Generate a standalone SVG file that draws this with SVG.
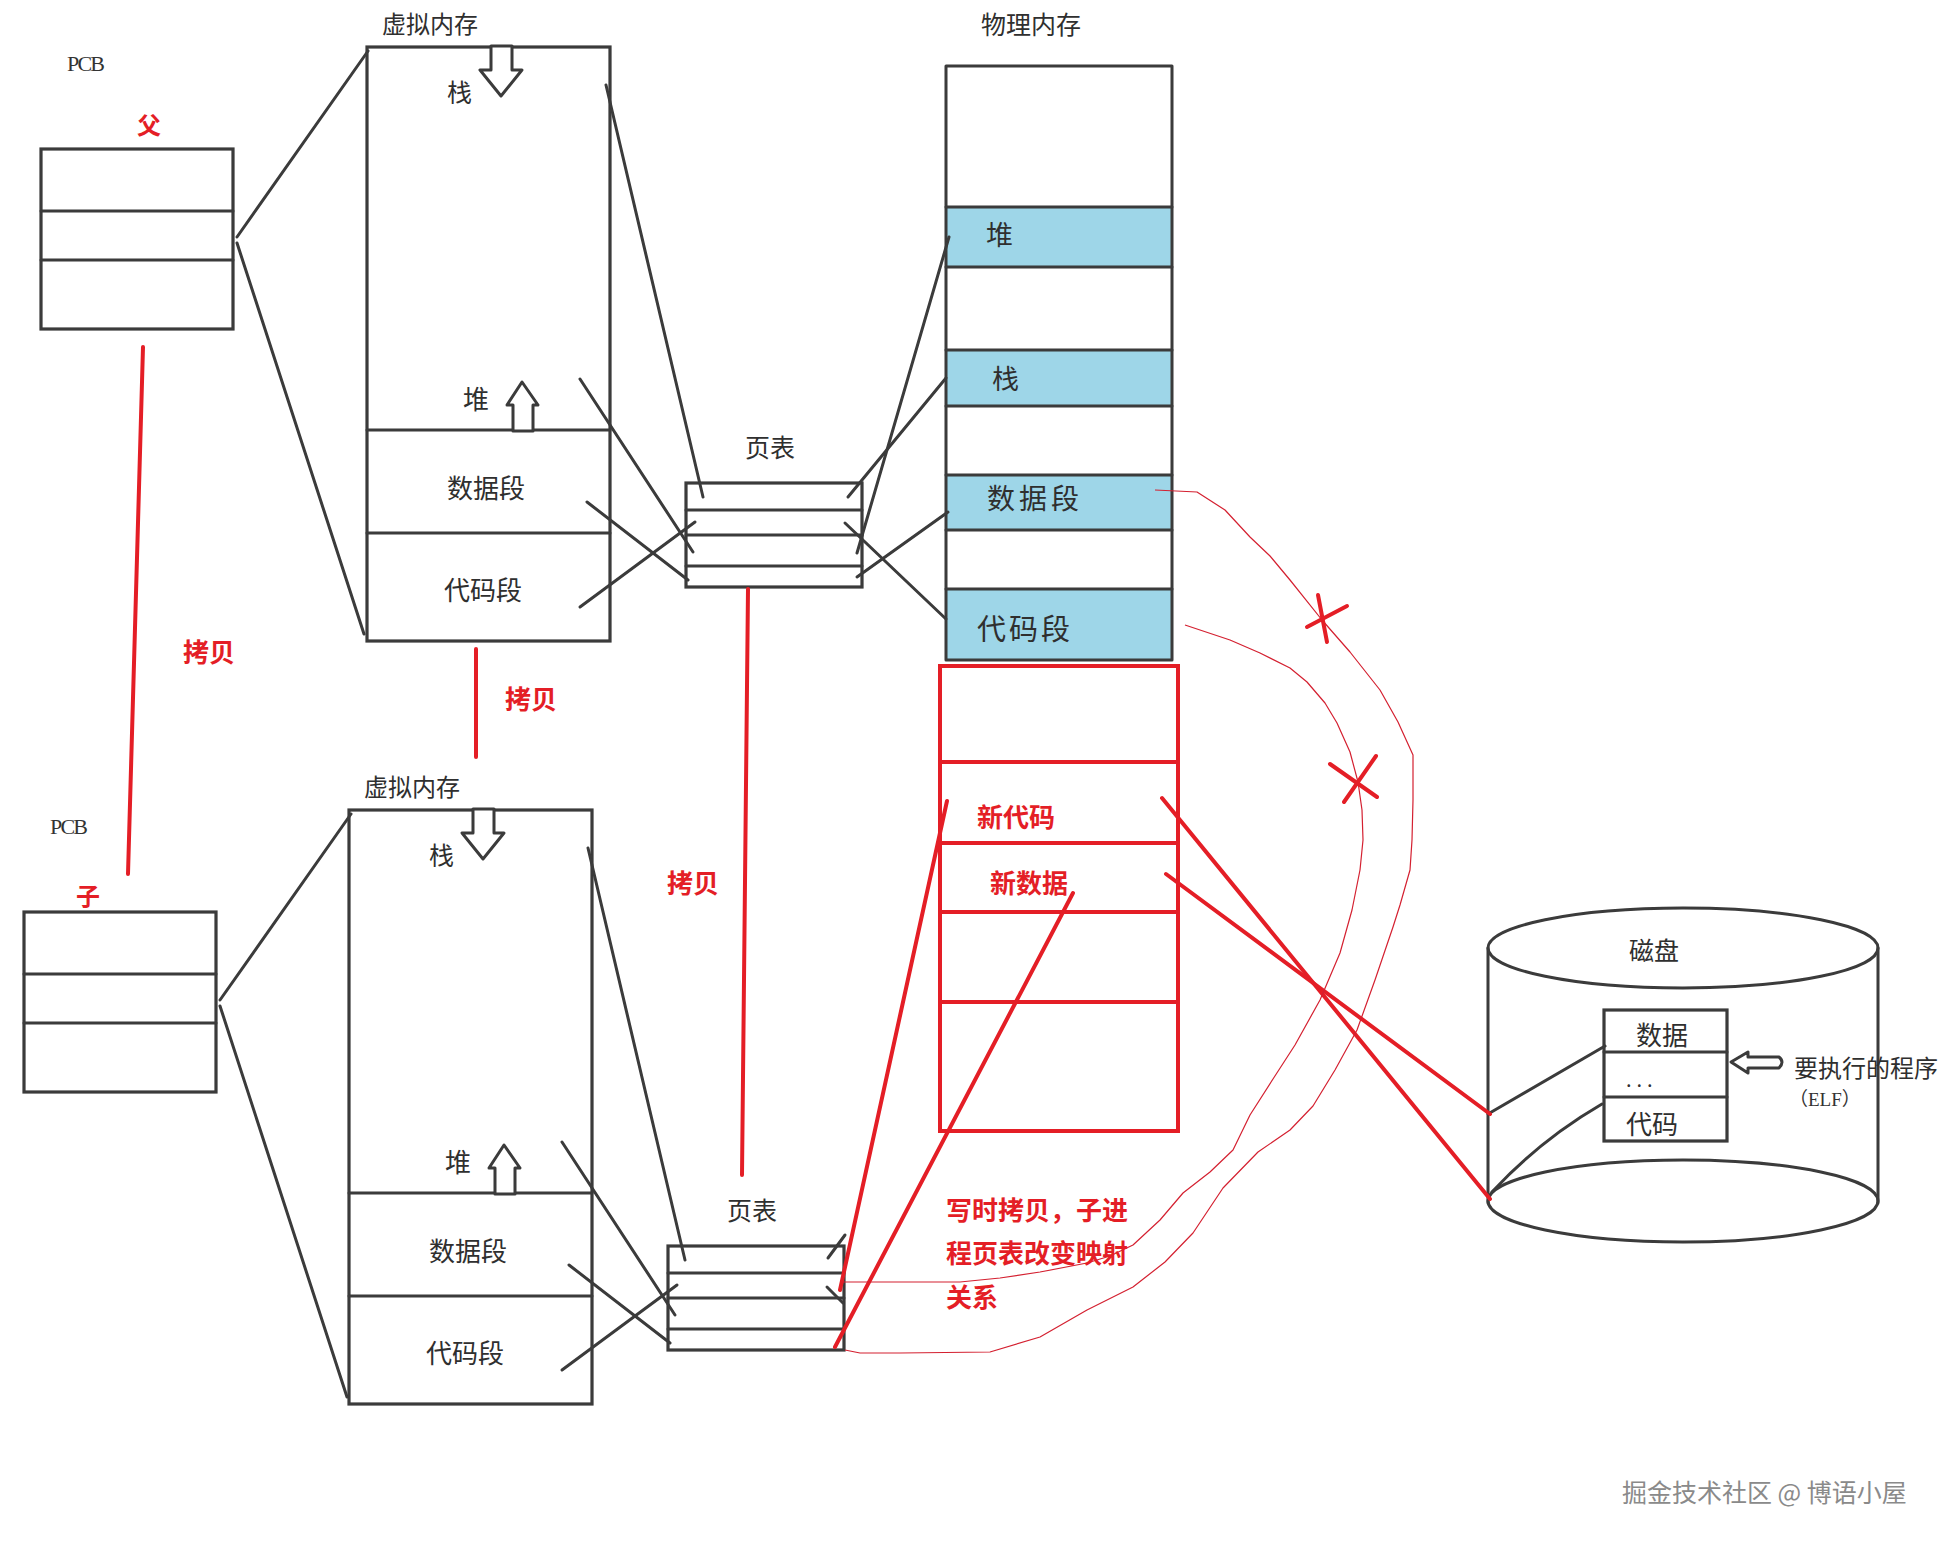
<svg xmlns="http://www.w3.org/2000/svg" width="1945" height="1544" viewBox="0 0 1945 1544">
<defs>
<style>
.pen{fill:none;stroke:#3a3a3a;stroke-width:3;stroke-linecap:round;stroke-linejoin:round;filter:url(#soft)}
.box{fill:#fff;stroke:#3a3a3a;stroke-width:3.2;filter:url(#soft)}
.arr{fill:#fff;stroke:#3a3a3a;stroke-width:3;stroke-linejoin:round;filter:url(#soft)}
.blue{fill:#9ED6E8}
.red{fill:none;stroke:#E41E26;stroke-width:4;stroke-linecap:round}
.redbox{fill:none;stroke:#E41E26;stroke-width:4}
.thin{fill:none;stroke:#D42030;stroke-width:1.2;stroke-linejoin:round}
.lbl{font-family:"Noto Sans CJK SC","Noto Sans",sans-serif;fill:#2f2f2f}
.rt{font-family:"Noto Sans CJK SC","Noto Sans",sans-serif;fill:#E41E26;font-weight:700}
.serif{font-family:"Liberation Serif","Noto Sans CJK SC",serif;fill:#333}
.wm{font-family:"Noto Sans CJK SC","Noto Sans",sans-serif;fill:#8a8a8a}
</style>
<filter id="soft" filterUnits="userSpaceOnUse" x="-2000" y="-2000" width="6000" height="6000"><feGaussianBlur stdDeviation="0.6"/></filter>
</defs>
<rect width="1945" height="1544" fill="#fff"/>

<!-- ===== Parent process ===== -->
<g id="parent-pcb">
  <text class="serif" x="67" y="71" font-size="22" textLength="38">PCB</text>
  <rect class="box" x="41" y="149" width="192" height="180"/>
  <line class="pen" x1="41" y1="211" x2="233" y2="211"/>
  <line class="pen" x1="41" y1="260" x2="233" y2="260"/>
</g>
<g id="parent-vm">
  <text class="lbl" x="382" y="33" font-size="24">虚拟内存</text>
  <rect class="box" x="367" y="47" width="243" height="594"/>
  <line class="pen" x1="367" y1="430" x2="610" y2="430"/>
  <line class="pen" x1="367" y1="533" x2="610" y2="533"/>
  <path class="arr" d="M491,46 L512,46 L512,70 L522,70 L501,96 L480,70 L491,70 Z"/>
  <path class="arr" d="M513,431 L513,405 L507,405 L522,382 L538,405 L533,405 L533,431 Z"/>
  <text class="lbl" x="447" y="102" font-size="25">栈</text>
  <text class="lbl" x="463" y="409" font-size="26">堆</text>
  <text class="lbl" x="447" y="498" font-size="26">数据段</text>
  <text class="lbl" x="444" y="600" font-size="26">代码段</text>
</g>
<g id="parent-pt">
  <text class="lbl" x="745" y="457" font-size="25">页表</text>
  <rect class="box" x="686" y="483" width="176" height="104"/>
  <line class="pen" x1="686" y1="510" x2="862" y2="510"/>
  <line class="pen" x1="686" y1="535" x2="862" y2="535"/>
  <line class="pen" x1="686" y1="566" x2="862" y2="566"/>
</g>

<!-- ===== Child process (copy) ===== -->
<g id="child-pcb" transform="translate(-17,763)">
  <text class="serif" x="67" y="71" font-size="22" textLength="38">PCB</text>
  <rect class="box" x="41" y="149" width="192" height="180"/>
  <line class="pen" x1="41" y1="211" x2="233" y2="211"/>
  <line class="pen" x1="41" y1="260" x2="233" y2="260"/>
</g>
<g id="child-vm" transform="translate(-18,763)">
  <text class="lbl" x="382" y="33" font-size="24">虚拟内存</text>
  <rect class="box" x="367" y="47" width="243" height="594"/>
  <line class="pen" x1="367" y1="430" x2="610" y2="430"/>
  <line class="pen" x1="367" y1="533" x2="610" y2="533"/>
  <path class="arr" d="M491,46 L512,46 L512,70 L522,70 L501,96 L480,70 L491,70 Z"/>
  <path class="arr" d="M513,431 L513,405 L507,405 L522,382 L538,405 L533,405 L533,431 Z"/>
  <text class="lbl" x="447" y="102" font-size="25">栈</text>
  <text class="lbl" x="463" y="409" font-size="26">堆</text>
  <text class="lbl" x="447" y="498" font-size="26">数据段</text>
  <text class="lbl" x="444" y="600" font-size="26">代码段</text>
</g>
<g id="child-pt" transform="translate(-18,763)">
  <text class="lbl" x="745" y="457" font-size="25">页表</text>
  <rect class="box" x="686" y="483" width="176" height="104"/>
  <line class="pen" x1="686" y1="510" x2="862" y2="510"/>
  <line class="pen" x1="686" y1="535" x2="862" y2="535"/>
  <line class="pen" x1="686" y1="566" x2="862" y2="566"/>
</g>

<!-- ===== Physical memory ===== -->
<g id="phys-mem">
  <text class="lbl" x="981" y="34" font-size="25">物理内存</text>
  <rect x="946" y="66" width="226" height="594" fill="#fff"/>
  <rect class="blue" x="947" y="207" width="224" height="60"/>
  <rect class="blue" x="947" y="350" width="224" height="56"/>
  <rect class="blue" x="947" y="475" width="224" height="55"/>
  <rect class="blue" x="947" y="589" width="224" height="71"/>
  <rect class="pen" x="946" y="66" width="226" height="594"/>
  <line class="pen" x1="946" y1="207" x2="1172" y2="207"/>
  <line class="pen" x1="946" y1="267" x2="1172" y2="267"/>
  <line class="pen" x1="946" y1="350" x2="1172" y2="350"/>
  <line class="pen" x1="946" y1="406" x2="1172" y2="406"/>
  <line class="pen" x1="946" y1="475" x2="1172" y2="475"/>
  <line class="pen" x1="946" y1="530" x2="1172" y2="530"/>
  <line class="pen" x1="946" y1="589" x2="1172" y2="589"/>
  <text class="lbl" x="986" y="245" font-size="27">堆</text>
  <text class="lbl" x="992" y="389" font-size="27">栈</text>
  <text class="lbl" x="987" y="509" font-size="28" letter-spacing="4">数据段</text>
  <text class="lbl" x="977" y="640" font-size="29" letter-spacing="3">代码段</text>
</g>

<!-- ===== New physical pages (red) ===== -->
<g id="new-phys-mem">
  <rect class="redbox" x="940" y="666" width="238" height="465"/>
  <line class="redbox" x1="940" y1="762" x2="1178" y2="762"/>
  <line class="redbox" x1="940" y1="843" x2="1178" y2="843"/>
  <line class="redbox" x1="940" y1="912" x2="1178" y2="912"/>
  <line class="redbox" x1="940" y1="1002" x2="1178" y2="1002"/>
  <text class="rt" x="977" y="827" font-size="26">新代码</text>
  <text class="rt" x="990" y="893" font-size="26">新数据</text>
</g>

<!-- ===== Disk ===== -->
<g id="disk">
  <line class="pen" x1="1488" y1="948" x2="1488" y2="1203"/>
  <line class="pen" x1="1878" y1="948" x2="1878" y2="1203"/>
  <ellipse class="pen" cx="1683" cy="948" rx="195" ry="40"/>
  <ellipse class="pen" cx="1683" cy="1201" rx="195" ry="41"/>
  <text class="lbl" x="1629" y="960" font-size="25">磁盘</text>
  <rect class="box" x="1604" y="1010" width="123" height="131"/>
  <line class="pen" x1="1604" y1="1052" x2="1727" y2="1052"/>
  <line class="pen" x1="1604" y1="1097" x2="1727" y2="1097"/>
  <text class="lbl" x="1636" y="1045" font-size="26">数据</text>
  <text class="lbl" x="1626" y="1087" font-size="20" letter-spacing="5">...</text>
  <text class="lbl" x="1626" y="1134" font-size="26">代码</text>
  <path class="arr" d="M1731,1062 L1748,1052 L1748,1057 L1779,1057 Q1785,1062 1779,1068 L1748,1068 L1748,1073 Z"/>
  <text class="lbl" x="1794" y="1077" font-size="24">要执行的程序</text>
  <text class="serif" x="1789" y="1106" font-size="19">（ELF）</text>
  <line class="pen" x1="1488" y1="1114" x2="1605" y2="1046"/>
  <path class="pen" d="M1492,1192 Q1540,1140 1602,1104"/>
</g>

<!-- ===== Connectors ===== -->
<g id="connectors">
  <!-- parent -->
  <line class="pen" x1="237" y1="237" x2="368" y2="51"/>
  <line class="pen" x1="237" y1="243" x2="364" y2="634"/>
  <line class="pen" x1="606" y1="85" x2="703" y2="497"/>
  <line class="pen" x1="580" y1="379" x2="693" y2="552"/>
  <line class="pen" x1="587" y1="502" x2="688" y2="580"/>
  <line class="pen" x1="580" y1="607" x2="695" y2="522"/>
  <!-- page table to physical memory -->
  <line class="pen" x1="848" y1="497" x2="946" y2="378"/>
  <line class="pen" x1="857" y1="553" x2="949" y2="237"/>
  <line class="pen" x1="857" y1="577" x2="948" y2="512"/>
  <line class="pen" x1="845" y1="523" x2="946" y2="619"/>
  <!-- child -->
  <g transform="translate(-17,763)">
    <line class="pen" x1="237" y1="237" x2="368" y2="51"/>
    <line class="pen" x1="237" y1="243" x2="364" y2="634"/>
  </g>
  <g transform="translate(-18,763)">
    <line class="pen" x1="606" y1="85" x2="703" y2="497"/>
    <line class="pen" x1="580" y1="379" x2="693" y2="552"/>
    <line class="pen" x1="587" y1="502" x2="688" y2="580"/>
    <line class="pen" x1="580" y1="607" x2="695" y2="522"/>
  </g>
  <line class="pen" x1="828" y1="1258" x2="845" y2="1235"/>
  <line class="pen" x1="827" y1="1287" x2="843" y2="1303"/>

  <!-- red copy lines -->
  <line class="red" x1="143" y1="347" x2="128" y2="874"/>
  <line class="red" x1="476" y1="649" x2="476" y2="757"/>
  <line class="red" x1="748" y1="589" x2="742" y2="1175"/>
  <line class="red" x1="840" y1="1290" x2="947" y2="801"/>
  <line class="red" x1="835" y1="1347" x2="1073" y2="893"/>
  <line class="red" x1="1162" y1="798" x2="1490" y2="1199"/>
  <line class="red" x1="1166" y1="874" x2="1490" y2="1114"/>

  <!-- thin red curves (old mappings) -->
  <path class="thin" d="M1155,490 L1197,492 L1225,510 L1250,537 L1270,556 L1290,580 L1322,620 L1350,652 L1380,690 L1398,722 L1413,755 L1413,800 L1412,840 L1410,870 L1400,905 L1393,927 L1375,980 L1357,1030 L1335,1070 L1313,1106 L1290,1130 L1258,1152 L1223,1188 L1193,1233 L1165,1262 L1133,1287 L1087,1310 L1040,1337 L990,1352 L900,1353 L860,1353 L845,1350"/>
  <path class="thin" d="M1185,625 L1230,640 L1260,653 L1290,668 L1307,682 L1325,703 L1337,723 L1350,752 L1358,782 L1362,810 L1363,840 L1360,870 L1352,910 L1340,953 L1320,1000 L1295,1045 L1273,1079 L1250,1115 L1233,1150 L1210,1172 L1183,1193 L1160,1220 L1133,1245 L1110,1256 L1087,1263 L1040,1272 L1000,1278 L960,1282 L843,1282"/>
  <!-- X marks -->
  <line class="red" x1="1318" y1="595" x2="1327" y2="642" stroke-width="5"/>
  <line class="red" x1="1307" y1="627" x2="1347" y2="606" stroke-width="5"/>
  <line class="red" x1="1330" y1="764" x2="1377" y2="797" stroke-width="5"/>
  <line class="red" x1="1344" y1="802" x2="1376" y2="756" stroke-width="5"/>
</g>

<!-- ===== Red annotations ===== -->
<g id="annotations">
  <text class="rt" x="149" y="134" font-size="24" text-anchor="middle">父</text>
  <text class="rt" x="88" y="905" font-size="24" text-anchor="middle">子</text>
  <text class="rt" x="183" y="662" font-size="26">拷贝</text>
  <text class="rt" x="505" y="709" font-size="26">拷贝</text>
  <text class="rt" x="667" y="893" font-size="26">拷贝</text>
  <text class="rt" x="946" y="1220" font-size="26">写时拷贝，子进</text>
  <text class="rt" x="946" y="1263" font-size="26">程页表改变映射</text>
  <text class="rt" x="946" y="1307" font-size="26">关系</text>
</g>

<text class="wm" x="1622" y="1502" font-size="25">掘金技术社区 @ 博语小屋</text>
</svg>
